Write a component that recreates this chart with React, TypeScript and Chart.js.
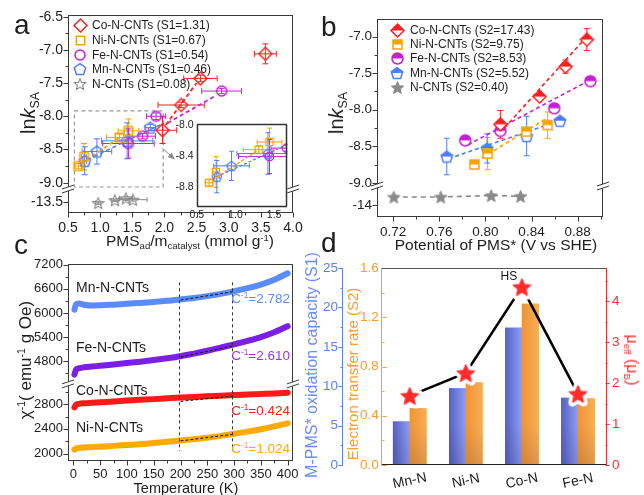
import { useEffect, useRef } from 'react';
import { Chart, registerables } from 'chart.js';

Chart.register(...registerables);

const FONT = '"Liberation Sans", Arial, Helvetica, sans-serif';
const INK = '#1e1e1e';
const AXIS = '#3a3a3a';

const RED = '#ff1f1f';
const ORANGE = '#f7a400';
const PURPLE = '#c51fd8';
const BLUE = '#4f7dff';
const GRAY = '#8a8a8a';

// ---------------- panel a ----------------
const aLabels = ['Co-N-CNTs (S1=1.31)', 'Ni-N-CNTs (S1=0.67)', 'Fe-N-CNTs (S1=0.54)', 'Mn-N-CNTs (S1=0.46)', 'N-CNTs (S1=0.08)'];
const aCoX = [1.97, 2.26, 2.56, 3.57];
const aCoY = [-8.21, -7.83, -7.43, -7.06];
const aCoXe = [0.22, 0.36, 0.26, 0.17];
const aCoYe = [0.2, 0.04, 0.05, 0.15];
const aNiX = [0.66, 0.75, 1.3, 1.44];
const aNiY = [-8.75, -8.61, -8.32, -8.22];
const aNiXe = [0.05, 0.04, 0.2, 0.16];
const aNiYe = [0.04, 0.2, 0.05, 0.18];
const aFeX = [1.44, 1.66, 1.87, 2.89];
const aFeY = [-8.41, -8.3, -8.0, -7.62];
const aFeXe = [0.4, 0.2, 0.15, 0.31];
const aFeYe = [0.22, 0.04, 0.05, 0.04];
const aMnX = [0.76, 0.95, 1.42, 1.78];
const aMnY = [-8.67, -8.53, -8.37, -8.17];
const aMnXe = [0.03, 0.23, 0.4, 0.08];
const aMnYe = [0.21, 0.19, 0.27, 0.05];
const aNX = [0.97, 1.23, 1.4, 1.51];
const aNY = [-13.52, -13.48, -13.45, -13.47];
const aNXe = [0.04, 0.05, 0.1, 0.22];
const aNYe = [0.02, 0.02, 0.03, 0.02];
const aCoFit = [2.02, -8.13, 2.5, -7.5];
const aNiFit = [0.7, -8.72, 1.3, -8.32];
const aFeFit = [2.05, -8.1, 2.78, -7.7];
const aMnFit = [0.7, -8.7, 2.0, -8.1];
const aXTicks = [0.5, 1.0, 1.5, 2.0, 2.5, 3.0, 3.5, 4.0];
const aYTicks = [-9.0, -8.5, -8.0, -7.5, -7.0, -6.5];
const aYLowTicks = [-13.5];
const aZoomBox = [0.6, 1.98, -9.065, -7.92];
const aArrow = [1.99, -8.5, 2.14, -8.63];
const aiXTicks = [0.5, 1.0, 1.5];
const aiYTicks = [-8.8, -8.4, -8.0];

// ---------------- panel b ----------------
const bLabels = ['Co-N-CNTs (S2=17.43)', 'Ni-N-CNTs (S2=9.75)', 'Fe-N-CNTs (S2=8.53)', 'Mn-N-CNTs (S2=5.52)', 'N-CNTs (S2=0.40)'];
const bCoX = [0.813, 0.847, 0.8695, 0.888];
const bCoY = [-8.2, -7.82, -7.41, -7.04];
const bCoYe = [0.19, 0.03, 0.09, 0.15];
const bNiX = [0.7905, 0.802, 0.8355, 0.854];
const bNiY = [-8.75, -8.6, -8.3, -8.21];
const bNiYe = [0.03, 0.22, 0.04, 0.18];
const bFeX = [0.7825, 0.813, 0.8597, 0.891];
const bFeY = [-8.42, -8.29, -7.98, -7.61];
const bFeYe = [0.05, 0.04, 0.06, 0.03];
const bMnX = [0.7665, 0.8015, 0.8358, 0.8646];
const bMnY = [-8.64, -8.53, -8.36, -8.15];
const bMnYe = [0.25, 0.2, 0.27, 0.04];
const bNX = [0.7206, 0.7613, 0.805, 0.8305];
const bNY = [-13.89, -13.89, -13.87, -13.88];
const bCoFit = [0.8125, -8.32, 0.889, -6.98];
const bNiFit = [0.797, -8.66, 0.853, -8.12];
const bFeFit = [0.785, -8.48, 0.89, -7.6];
const bMnFit = [0.768, -8.67, 0.866, -8.14];
const bXTicks = [0.72, 0.76, 0.8, 0.84, 0.88];
const bYTicks = [-9.0, -8.5, -8.0, -7.5, -7.0];
const bYLowTicks = [-14];

// ---------------- panel c ----------------
const cT = [2, 5, 10, 20, 35, 50, 75, 100, 125, 150, 175, 200, 225, 250, 275, 300, 325, 350, 375, 400];
const cMn = [6080, 6215, 6235, 6205, 6185, 6188, 6205, 6225, 6248, 6272, 6300, 6335, 6372, 6418, 6472, 6540, 6615, 6705, 6825, 6985];
const cFe = [4470, 4590, 4625, 4650, 4668, 4688, 4720, 4755, 4790, 4830, 4875, 4925, 4990, 5060, 5140, 5220, 5305, 5400, 5520, 5670];
const cCo = [2750, 2790, 2805, 2815, 2822, 2830, 2845, 2858, 2870, 2882, 2895, 2907, 2918, 2928, 2938, 2948, 2957, 2966, 2975, 2985];
const cNi = [2065, 2080, 2090, 2098, 2104, 2112, 2125, 2138, 2153, 2170, 2190, 2212, 2234, 2258, 2287, 2320, 2355, 2395, 2440, 2490];
const cMnFit = [200, 6320, 300, 6530];
const cFeFit = [200, 4905, 300, 5185];
const cCoFit = [200, 2845, 300, 2935];
const cNiFit = [200, 2205, 300, 2315];
const cVLines = [197, 296];
const cVSpan = [6760, 2040];
const cXTicks = [0, 50, 100, 150, 200, 250, 300, 350, 400];
const cYTicks = [4800, 5400, 6000, 6600, 7200];
const cYLowTicks = [2000, 2400, 2800];

// ---------------- panel d ----------------
const dCats = ['Mn-N', 'Ni-N', 'Co-N', 'Fe-N'];
const dS1 = [5.52, 9.75, 17.43, 8.53];
const dS2 = [0.46, 0.67, 1.31, 0.54];
const dMu = [1.69, 2.25, 4.35, 1.74];
const dS1Ticks = [0, 5, 10, 15, 20, 25];
const dS2Ticks = [0, 0.4, 0.8, 1.2, 1.6];
const dMuTicks = [0, 1, 2, 3, 4];

const D_BLUE = '#5b7fff';
const D_ORANGE = '#ff9a2e';
const D_RED = '#ff2b2b';

// ---------------- helpers ----------------
const f1 = (v: number) => v.toFixed(1);
const f2 = (v: number) => v.toFixed(2);
const f0 = (v: number) => String(Math.round(v));
const pts = (xs: number[], ys: number[]) => xs.map((x, i) => ({ x, y: ys[i] }));
const seg = (f: number[]) => [{ x: f[0], y: f[1] }, { x: f[2], y: f[3] }];

function shapePath(ctx: CanvasRenderingContext2D, shape: string, r: number) {
  ctx.beginPath();
  if (shape === 'circle') {
    ctx.arc(0, 0, r, 0, Math.PI * 2);
  } else if (shape === 'square') {
    ctx.rect(-r, -r, 2 * r, 2 * r);
  } else if (shape === 'diamond') {
    ctx.moveTo(0, -r); ctx.lineTo(r, 0); ctx.lineTo(0, r); ctx.lineTo(-r, 0); ctx.closePath();
  } else if (shape === 'pentagon') {
    for (let i = 0; i < 5; i++) {
      const a = -Math.PI / 2 + (i * 2 * Math.PI) / 5;
      const x = r * Math.cos(a), y = r * Math.sin(a) + r * 0.1;
      if (i === 0) ctx.moveTo(x, y); else ctx.lineTo(x, y);
    }
    ctx.closePath();
  } else if (shape === 'star') {
    for (let i = 0; i < 10; i++) {
      const rr = i % 2 ? r * 0.46 : r;
      const a = -Math.PI / 2 + (i * Math.PI) / 5;
      const x = rr * Math.cos(a), y = rr * Math.sin(a) + r * 0.1;
      if (i === 0) ctx.moveTo(x, y); else ctx.lineTo(x, y);
    }
    ctx.closePath();
  }
}

function makeMarker(shape: string, r: number, color: string, mode: string, lw = 1.4, halo = 0): HTMLCanvasElement {
  const pad = Math.ceil(lw / 2 + halo + 1);
  const size = Math.ceil(2 * r + 2 * pad);
  const c = document.createElement('canvas');
  c.width = size; c.height = size;
  const ctx = c.getContext('2d') as CanvasRenderingContext2D;
  ctx.translate(size / 2, size / 2);
  const path = () => shapePath(ctx, shape, r);
  if (halo > 0) {
    path(); ctx.strokeStyle = '#fff'; ctx.lineJoin = 'round'; ctx.lineWidth = lw + 2 * halo; ctx.stroke();
  }
  ctx.lineJoin = 'miter';
  if (mode === 'filled') {
    path(); ctx.fillStyle = color; ctx.fill();
  } else if (mode === 'half') {
    path(); ctx.fillStyle = '#fff'; ctx.fill();
    ctx.save(); path(); ctx.clip(); ctx.fillStyle = color; ctx.fillRect(-size, -size, 2 * size, size); ctx.restore();
  }
  if (lw > 0) { path(); ctx.strokeStyle = color; ctx.lineWidth = lw; ctx.stroke(); }
  return c;
}

function lin(o: any) {
  return {
    type: 'linear', position: o.pos, min: o.min, max: o.max, bounds: 'data',
    stack: o.stack, stackWeight: o.sw ?? 1, weight: o.weight ?? 0,
    grid: { display: false, drawTicks: false },
    border: o.border ? { display: true, color: o.border, width: 1 } : { display: false },
    ticks: {
      color: o.color ?? INK, font: { family: FONT, size: o.fs }, padding: o.pad ?? 4,
      autoSkip: false, maxRotation: 0, minRotation: 0,
      callback: (v: any) => o.fmt(Number(v)),
    },
    afterBuildTicks: (s: any) => { s.ticks = o.ticks.map((v: number) => ({ value: v })); },
    afterFit: (s: any) => { if (o.pos === 'bottom') s.height = o.size; else s.width = o.size; },
  };
}

const base = (top: number, right: number) => ({
  responsive: false, animation: false, devicePixelRatio: 1, events: [],
  layout: { padding: { top, right, left: 0, bottom: 0 } },
  plugins: { legend: { display: false }, tooltip: { enabled: false } },
});

function pointDs(label: string, data: any[], img: any, yAxisID = 'y', r = 6) {
  return { type: 'line', label, data, showLine: false, pointStyle: img, pointRadius: r, pointHoverRadius: r, yAxisID, order: 0 };
}
function lineDs(data: any[], color: string, width: number, dash: number[], yAxisID = 'y', order = 5) {
  return { type: 'line', data, borderColor: color, borderWidth: width, borderDash: dash, pointRadius: 0, fill: false, tension: 0, yAxisID, order };
}

function drawErr(chart: any, ctx: CanvasRenderingContext2D, s: any) {
  const meta = chart.getDatasetMeta(s.ds);
  const data = chart.data.datasets[s.ds].data;
  const xs = chart.scales[meta.xAxisID], ys = chart.scales[meta.yAxisID];
  ctx.strokeStyle = s.color; ctx.lineWidth = 1; ctx.setLineDash([]);
  ctx.beginPath();
  data.forEach((p: any, i: number) => {
    const px = xs.getPixelForValue(p.x), py = ys.getPixelForValue(p.y);
    if (s.xe && s.xe[i]) {
      const x0 = xs.getPixelForValue(p.x - s.xe[i]), x1 = xs.getPixelForValue(p.x + s.xe[i]);
      ctx.moveTo(x0, py); ctx.lineTo(x1, py);
      ctx.moveTo(x0, py - s.cap); ctx.lineTo(x0, py + s.cap);
      ctx.moveTo(x1, py - s.cap); ctx.lineTo(x1, py + s.cap);
    }
    if (s.ye && s.ye[i]) {
      const y0 = ys.getPixelForValue(p.y - s.ye[i]), y1 = ys.getPixelForValue(p.y + s.ye[i]);
      ctx.moveTo(px, y0); ctx.lineTo(px, y1);
      ctx.moveTo(px - s.cap, y0); ctx.lineTo(px + s.cap, y0);
      ctx.moveTo(px - s.cap, y1); ctx.lineTo(px + s.cap, y1);
    }
  });
  ctx.stroke();
}

function drawTicks(chart: any, ctx: CanvasRenderingContext2D, t: any) {
  const s = chart.scales[t.id];
  const majors = s.ticks.map((k: any) => k.value);
  const k0 = Math.ceil(s.min / t.minor - 1e-6), k1 = Math.floor(s.max / t.minor + 1e-6);
  ctx.strokeStyle = t.color; ctx.lineWidth = 1; ctx.setLineDash([]);
  ctx.beginPath();
  for (let k = k0; k <= k1; k++) {
    const v = k * t.minor;
    const major = majors.some((m: number) => Math.abs(m - v) < t.minor * 0.01);
    const L = major ? t.len : Math.round(t.len * 0.6);
    const p = Math.round(s.getPixelForValue(v)) + 0.5;
    if (s.position === 'left') {
      const x = Math.round(s.right) + 0.5; ctx.moveTo(x, p); ctx.lineTo(x - t.dir * L, p);
    } else if (s.position === 'right') {
      const x = Math.round(s.left) - 0.5; ctx.moveTo(x, p); ctx.lineTo(x + t.dir * L, p);
    } else {
      const y = Math.round(s.top) - 0.5; ctx.moveTo(p, y); ctx.lineTo(p, y + t.dir * L);
    }
  }
  ctx.stroke();
}

function drawBreak(chart: any, ctx: CanvasRenderingContext2D, id: string, color: string) {
  const s = chart.scales[id]; const a = chart.chartArea;
  const yb = s.bottom;
  [a.left, a.right].forEach((x: number) => {
    ctx.fillStyle = '#fff';
    ctx.beginPath();
    ctx.moveTo(x - 6, yb + 1); ctx.lineTo(x + 6, yb - 3); ctx.lineTo(x + 6, yb + 1); ctx.lineTo(x - 6, yb + 5); ctx.closePath();
    ctx.fill();
    ctx.strokeStyle = color; ctx.lineWidth = 1; ctx.setLineDash([]);
    ctx.beginPath();
    ctx.moveTo(x - 6, yb + 1); ctx.lineTo(x + 6, yb - 3);
    ctx.moveTo(x - 6, yb + 5); ctx.lineTo(x + 6, yb + 1);
    ctx.stroke();
  });
}

function drawFrame(chart: any, ctx: CanvasRenderingContext2D, f: any) {
  const a = chart.chartArea;
  const l = Math.round(a.left) + 0.5, t = Math.round(a.top) + 0.5;
  const r = Math.round(a.right) - 0.5, b = Math.round(a.bottom) - 0.5;
  ctx.strokeStyle = f.color; ctx.lineWidth = f.lw ?? 1; ctx.setLineDash([]);
  ctx.beginPath();
  const sides = f.sides ?? 'tlrb';
  if (sides.includes('t')) { ctx.moveTo(l - 0.5, t); ctx.lineTo(r + 0.5, t); }
  if (sides.includes('b')) { ctx.moveTo(l - 0.5, b); ctx.lineTo(r + 0.5, b); }
  if (sides.includes('l')) { ctx.moveTo(l, t); ctx.lineTo(l, b); }
  if (sides.includes('r')) { ctx.moveTo(r, t); ctx.lineTo(r, b); }
  ctx.stroke();
}

function drawLegend(ctx: CanvasRenderingContext2D, L: any) {
  ctx.font = `${L.fs}px ${FONT}`; ctx.fillStyle = INK; ctx.textBaseline = 'middle'; ctx.textAlign = 'left';
  L.items.forEach((it: any, i: number) => {
    const y = L.y + i * L.dy;
    ctx.drawImage(it.img, Math.round(L.x - it.img.width / 2), Math.round(y - it.img.height / 2));
    ctx.fillText(it.text, L.tx, y + 0.5);
  });
}

function decor(cfg: any) {
  return {
    id: 'decor',
    beforeDraw(chart: any) {
      if (!cfg.bg) return;
      const a = chart.chartArea; const c = chart.ctx;
      c.save(); c.fillStyle = '#fff'; c.fillRect(a.left, a.top, a.right - a.left, a.bottom - a.top); c.restore();
    },
    beforeDatasetsDraw(chart: any) {
      const ctx = chart.ctx; const a = chart.chartArea;
      ctx.save();
      ctx.beginPath(); ctx.rect(a.left, a.top, a.right - a.left, a.bottom - a.top); ctx.clip();
      if (cfg.before) cfg.before(chart, ctx);
      (cfg.err || []).forEach((s: any) => drawErr(chart, ctx, s));
      ctx.restore();
    },
    afterDatasetDraw(chart: any, args: any) {
      if (cfg.afterDs) cfg.afterDs(chart, args);
    },
    afterDraw(chart: any) {
      const ctx = chart.ctx;
      ctx.save();
      if (cfg.afterClip) {
        const a = chart.chartArea;
        ctx.save(); ctx.beginPath(); ctx.rect(a.left, a.top, a.right - a.left, a.bottom - a.top); ctx.clip();
        cfg.afterClip(chart, ctx);
        ctx.restore();
      }
      if (cfg.frame) drawFrame(chart, ctx, cfg.frame);
      (cfg.ticks || []).forEach((t: any) => drawTicks(chart, ctx, t));
      if (cfg.breakAt) drawBreak(chart, ctx, cfg.breakAt, cfg.frame ? cfg.frame.color : AXIS);
      if (cfg.legend) drawLegend(ctx, cfg.legend);
      if (cfg.after) cfg.after(chart, ctx);
      ctx.restore();
    },
  };
}

// ---------------- charts ----------------
function chartA(cv: HTMLCanvasElement) {
  const co = makeMarker('diamond', 6.5, RED, 'open', 1.5);
  const ni = makeMarker('square', 4.2, ORANGE, 'open', 1.5);
  const fe = makeMarker('circle', 5, PURPLE, 'open', 1.5);
  const mn = makeMarker('pentagon', 6, BLUE, 'open', 1.5);
  const nn = makeMarker('star', 6, GRAY, 'open', 1.1);
  const datasets: any[] = [
    pointDs(aLabels[0], pts(aCoX, aCoY), co),
    pointDs(aLabels[1], pts(aNiX, aNiY), ni),
    pointDs(aLabels[2], pts(aFeX, aFeY), fe),
    pointDs(aLabels[3], pts(aMnX, aMnY), mn),
    pointDs(aLabels[4], pts(aNX, aNY), nn, 'y2'),
    lineDs(seg(aCoFit), RED, 1.8, [4, 3]),
    lineDs(seg(aNiFit), ORANGE, 1.8, [4, 3]),
    lineDs(seg(aFeFit), PURPLE, 1.8, [4, 3]),
    lineDs(seg(aMnFit), BLUE, 1.5, [4, 3]),
  ];
  return new Chart(cv, {
    type: 'line',
    data: { datasets },
    options: {
      ...base(15, 29),
      scales: {
        x: lin({ min: 0.5, max: 4.0, ticks: aXTicks, fmt: f1, pos: 'bottom', size: 37, fs: 14, pad: 7 }),
        y: lin({ min: -9.08, max: -6.475, ticks: aYTicks, fmt: f1, pos: 'left', size: 68, fs: 14, pad: 5, stack: 'L', sw: 173, weight: 2 }),
        y2: lin({ min: -13.67, max: -13.294, ticks: aYLowTicks, fmt: f1, pos: 'left', size: 68, fs: 14, pad: 5, stack: 'L', sw: 25, weight: 1 }),
      },
    } as any,
    plugins: [decor({
      frame: { color: AXIS },
      ticks: [
        { id: 'x', minor: 0.25, dir: 1, len: 5, color: AXIS },
        { id: 'y', minor: 0.25, dir: 1, len: 5, color: AXIS },
        { id: 'y2', minor: 0.25, dir: 1, len: 5, color: AXIS },
      ],
      breakAt: 'y',
      err: [
        { ds: 0, xe: aCoXe, ye: aCoYe, color: RED, cap: 3 },
        { ds: 1, xe: aNiXe, ye: aNiYe, color: ORANGE, cap: 3 },
        { ds: 2, xe: aFeXe, ye: aFeYe, color: PURPLE, cap: 3 },
        { ds: 3, xe: aMnXe, ye: aMnYe, color: BLUE, cap: 3 },
        { ds: 4, xe: aNXe, ye: aNYe, color: GRAY, cap: 2.5 },
      ],
      legend: { x: 80, y: 25.3, dy: 14.7, tx: 92, fs: 12, items: [co, ni, fe, mn, nn].map((img, i) => ({ img, text: aLabels[i] })) },
      before: (chart: any, ctx: CanvasRenderingContext2D) => {
        const xs = chart.scales.x, ys = chart.scales.y;
        const x0 = xs.getPixelForValue(aZoomBox[0]), x1 = xs.getPixelForValue(aZoomBox[1]);
        const y0 = ys.getPixelForValue(aZoomBox[2]), y1 = ys.getPixelForValue(aZoomBox[3]);
        ctx.strokeStyle = '#9a9a9a'; ctx.lineWidth = 1.2; ctx.setLineDash([4, 3]);
        ctx.strokeRect(x0, y1, x1 - x0, y0 - y1);
        ctx.setLineDash([]);
        const ax0 = xs.getPixelForValue(aArrow[0]), ay0 = ys.getPixelForValue(aArrow[1]);
        const ax1 = xs.getPixelForValue(aArrow[2]), ay1 = ys.getPixelForValue(aArrow[3]);
        ctx.strokeStyle = '#8a8a8a'; ctx.fillStyle = '#8a8a8a'; ctx.lineWidth = 1;
        ctx.beginPath(); ctx.moveTo(ax0, ay0); ctx.lineTo(ax1, ay1); ctx.stroke();
        const ang = Math.atan2(ay1 - ay0, ax1 - ax0);
        ctx.beginPath();
        ctx.moveTo(ax1 + 2 * Math.cos(ang), ay1 + 2 * Math.sin(ang));
        ctx.lineTo(ax1 - 5 * Math.cos(ang) + 3 * Math.sin(ang), ay1 - 5 * Math.sin(ang) - 3 * Math.cos(ang));
        ctx.lineTo(ax1 - 5 * Math.cos(ang) - 3 * Math.sin(ang), ay1 - 5 * Math.sin(ang) + 3 * Math.cos(ang));
        ctx.closePath(); ctx.fill();
      },
    })],
  } as any);
}

function chartAInset(cv: HTMLCanvasElement) {
  const ni = makeMarker('square', 3.6, ORANGE, 'open', 1.3);
  const fe = makeMarker('circle', 4.2, PURPLE, 'open', 1.3);
  const mn = makeMarker('pentagon', 5, BLUE, 'open', 1.3);
  const datasets: any[] = [
    pointDs('Ni', pts(aNiX, aNiY), ni, 'y', 4),
    pointDs('Fe', pts(aFeX, aFeY), fe, 'y', 4),
    pointDs('Mn', pts(aMnX, aMnY), mn, 'y', 4),
    lineDs(seg(aNiFit), ORANGE, 1.5, [3, 2]),
    lineDs(seg(aMnFit), BLUE, 1.3, [3, 2]),
  ];
  return new Chart(cv, {
    type: 'line',
    data: { datasets },
    options: {
      ...base(12, 7.7),
      scales: {
        x: lin({ min: 0.5, max: 1.67, ticks: aiXTicks, fmt: f1, pos: 'bottom', size: 18.3, fs: 10.5, pad: 2 }),
        y: lin({ min: -9.06, max: -7.987, ticks: aiYTicks, fmt: f1, pos: 'left', size: 36.7, fs: 10.5, pad: 3 }),
      },
    } as any,
    plugins: [decor({
      bg: true,
      frame: { color: '#333', lw: 1.5 },
      err: [
        { ds: 0, xe: aNiXe, ye: aNiYe, color: ORANGE, cap: 2.5 },
        { ds: 1, xe: aFeXe, ye: aFeYe, color: PURPLE, cap: 2.5 },
        { ds: 2, xe: aMnXe, ye: aMnYe, color: BLUE, cap: 2.5 },
      ],
    })],
  } as any);
}

function chartB(cv: HTMLCanvasElement) {
  const co = makeMarker('diamond', 6.5, RED, 'half', 1.5);
  const ni = makeMarker('square', 4.5, ORANGE, 'half', 1.5);
  const fe = makeMarker('circle', 5.5, PURPLE, 'half', 1.5);
  const mn = makeMarker('pentagon', 6, BLUE, 'half', 1.5);
  const nn = makeMarker('star', 6.5, GRAY, 'filled', 1);
  const datasets: any[] = [
    pointDs(bLabels[0], pts(bCoX, bCoY), co),
    pointDs(bLabels[1], pts(bNiX, bNiY), ni),
    pointDs(bLabels[2], pts(bFeX, bFeY), fe),
    pointDs(bLabels[3], pts(bMnX, bMnY), mn),
    pointDs(bLabels[4], pts(bNX, bNY), nn, 'y2'),
    lineDs(seg(bCoFit), RED, 1.6, [4, 3]),
    lineDs(seg(bNiFit), ORANGE, 1.6, [4, 3]),
    lineDs(seg(bFeFit), PURPLE, 1.6, [4, 3]),
    lineDs(seg(bMnFit), BLUE, 1.6, [4, 3]),
    lineDs(pts(bNX, bNY), GRAY, 1.6, [5, 4], 'y2'),
  ];
  return new Chart(cv, {
    type: 'line',
    data: { datasets },
    options: {
      ...base(19, 41),
      scales: {
        x: lin({ min: 0.706, max: 0.902, ticks: bXTicks, fmt: f2, pos: 'bottom', size: 33, fs: 13.5, pad: 7 }),
        y: lin({ min: -9.03, max: -6.758, ticks: bYTicks, fmt: f1, pos: 'left', size: 55, fs: 13.5, pad: 5, stack: 'L', sw: 166, weight: 2 }),
        y2: lin({ min: -14.164, max: -13.726, ticks: bYLowTicks, fmt: f0, pos: 'left', size: 55, fs: 13.5, pad: 5, stack: 'L', sw: 32, weight: 1 }),
      },
    } as any,
    plugins: [decor({
      frame: { color: AXIS },
      ticks: [
        { id: 'x', minor: 0.02, dir: 1, len: 5, color: AXIS },
        { id: 'y', minor: 0.25, dir: 1, len: 5, color: AXIS },
        { id: 'y2', minor: 0.25, dir: 1, len: 5, color: AXIS },
      ],
      breakAt: 'y',
      err: [
        { ds: 0, ye: bCoYe, color: RED, cap: 3 },
        { ds: 1, ye: bNiYe, color: ORANGE, cap: 3 },
        { ds: 2, ye: bFeYe, color: PURPLE, cap: 3 },
        { ds: 3, ye: bMnYe, color: BLUE, cap: 3 },
      ],
      legend: { x: 75, y: 30, dy: 14.25, tx: 88, fs: 12, items: [co, ni, fe, mn, nn].map((img, i) => ({ img, text: bLabels[i] })) },
    })],
  } as any);
}

function curveDs(xs: number[], ys: number[], color: string, yAxisID: string) {
  return {
    type: 'line', data: pts(xs, ys), borderColor: color, borderWidth: 6, pointRadius: 0,
    cubicInterpolationMode: 'monotone', borderCapStyle: 'round', borderJoinStyle: 'round', fill: false, yAxisID, order: 5,
  };
}

function chartC(cv: HTMLCanvasElement) {
  const datasets: any[] = [
    lineDs(seg(cMnFit), '#111', 1, [3, 2], 'y', 0),
    lineDs(seg(cFeFit), '#111', 1, [3, 2], 'y', 0),
    lineDs(seg(cCoFit), '#111', 1, [3, 2], 'y2', 0),
    lineDs(seg(cNiFit), '#111', 1, [3, 2], 'y2', 0),
    curveDs(cT, cMn, '#5b8cff', 'y'),
    curveDs(cT, cFe, '#7b1fe6', 'y'),
    curveDs(cT, cCo, '#ff1a1a', 'y2'),
    curveDs(cT, cNi, '#ffaa00', 'y2'),
  ];
  return new Chart(cv, {
    type: 'line',
    data: { datasets },
    options: {
      ...base(14, 29),
      scales: {
        x: lin({ min: -10, max: 410, ticks: cXTicks, fmt: f0, pos: 'bottom', size: 34, fs: 13, pad: 6 }),
        y: lin({ min: 4263, max: 7215, ticks: cYTicks, fmt: f0, pos: 'left', size: 68, fs: 13, pad: 5, stack: 'L', sw: 118.7, weight: 2 }),
        y2: lin({ min: 1880, max: 3145, ticks: cYLowTicks, fmt: f0, pos: 'left', size: 68, fs: 13, pad: 5, stack: 'L', sw: 78, weight: 1 }),
      },
    } as any,
    plugins: [decor({
      frame: { color: AXIS },
      ticks: [
        { id: 'x', minor: 25, dir: 1, len: 5, color: AXIS },
        { id: 'y', minor: 300, dir: 1, len: 5, color: AXIS },
        { id: 'y2', minor: 200, dir: 1, len: 5, color: AXIS },
      ],
      breakAt: 'y',
      afterClip: (chart: any, ctx: CanvasRenderingContext2D) => {
        const xs = chart.scales.x;
        const y0 = chart.scales.y.getPixelForValue(cVSpan[0]);
        const y1 = chart.scales.y2.getPixelForValue(cVSpan[1]);
        ctx.strokeStyle = '#333'; ctx.lineWidth = 1; ctx.setLineDash([3, 3]);
        ctx.beginPath();
        cVLines.forEach((t) => {
          const x = Math.round(xs.getPixelForValue(t)) + 0.5;
          ctx.moveTo(x, y0); ctx.lineTo(x, y1);
        });
        ctx.stroke();
        ctx.setLineDash([]);
      },
    })],
  } as any);
}

function chartD(cv: HTMLCanvasElement) {
  const star = makeMarker('star', 9.5, D_RED, 'filled', 1, 3.5);
  const datasets: any[] = [
    { type: 'line', data: dMu, yAxisID: 'yMu', borderColor: '#000', borderWidth: 2.5, pointStyle: star, pointRadius: 9, pointHoverRadius: 9, tension: 0, fill: false, order: 0 },
    { type: 'bar', data: dS1, yAxisID: 'yS1', backgroundColor: '#7a86e0', categoryPercentage: 0.6, barPercentage: 1, order: 2 },
    { type: 'bar', data: dS2, yAxisID: 'yS2', backgroundColor: '#f5a040', categoryPercentage: 0.6, barPercentage: 1, order: 3 },
  ];
  return new Chart(cv, {
    type: 'bar',
    data: { labels: dCats, datasets },
    options: {
      ...base(18, 0),
      scales: {
        x: {
          type: 'category', offset: true, grid: { display: false, drawTicks: false }, border: { display: false },
          ticks: { display: false }, afterFit: (s: any) => { s.height = 30; },
        },
        yS1: lin({ min: 0, max: 25, ticks: dS1Ticks, fmt: f0, pos: 'left', size: 20, fs: 13.5, color: D_BLUE, pad: 4, weight: 1, border: D_BLUE }),
        yS2: lin({ min: 0, max: 1.6, ticks: dS2Ticks, fmt: f1, pos: 'left', size: 39.7, fs: 13.5, color: D_ORANGE, pad: 3, weight: 0, border: D_ORANGE }),
        yMu: lin({ min: 0, max: 4.816, ticks: dMuTicks, fmt: f0, pos: 'right', size: 38, fs: 13.5, color: D_RED, pad: 6, border: D_RED }),
      },
    } as any,
    plugins: [decor({
      frame: { color: '#222', sides: 'b' },
      ticks: [
        { id: 'yS1', minor: 2.5, dir: 1, len: 4, color: D_BLUE },
        { id: 'yS2', minor: 0.2, dir: -1, len: 4, color: D_ORANGE },
        { id: 'yMu', minor: 0.5, dir: 1, len: 4, color: D_RED },
      ],
      afterDs: (chart: any, args: any) => {
        const idx = args.index;
        if (idx !== 1 && idx !== 2) return;
        const ctx = chart.ctx;
        const cols = idx === 1 ? ['#5660c0', '#8e9ef6'] : ['#ee9436', '#fbae55'];
        args.meta.data.forEach((el: any) => {
          const { x, y, base: b, width } = el.getProps(['x', 'y', 'base', 'width'], true);
          const l = x - width / 2;
          const g = ctx.createLinearGradient(l, 0, l + width, 0);
          g.addColorStop(0, cols[0]); g.addColorStop(1, cols[1]);
          ctx.save(); ctx.fillStyle = g; ctx.fillRect(l, y, width, b - y);
          const g2 = ctx.createLinearGradient(0, b - 40, 0, b);
          g2.addColorStop(0, 'rgba(0,0,40,0)'); g2.addColorStop(1, 'rgba(0,0,40,0.12)');
          ctx.fillStyle = g2; ctx.fillRect(l, Math.max(y, b - 40), width, Math.min(40, b - y));
          ctx.restore();
        });
      },
      after: (chart: any, ctx: CanvasRenderingContext2D) => {
        const a = chart.chartArea;
        ctx.strokeStyle = '#555'; ctx.lineWidth = 1; ctx.setLineDash([]);
        ctx.beginPath(); ctx.moveTo(a.left, Math.round(a.top) + 0.5); ctx.lineTo(a.right, Math.round(a.top) + 0.5); ctx.stroke();
        const xs = chart.scales.x;
        ctx.font = `14px ${FONT}`; ctx.fillStyle = INK; ctx.textAlign = 'center'; ctx.textBaseline = 'middle';
        dCats.forEach((lab, i) => {
          ctx.save();
          ctx.translate(xs.getPixelForValue(i), a.bottom + 16);
          ctx.rotate((-12 * Math.PI) / 180);
          ctx.fillText(lab, 0, 0);
          ctx.restore();
        });
        const el = chart.getDatasetMeta(0).data[2];
        ctx.font = `12px ${FONT}`; ctx.fillStyle = '#111';
        ctx.fillText('HS', el.x - 13, el.y - 10);
      },
    })],
  } as any);
}

// ---------------- page ----------------
const abs = (s: any): any => ({ position: 'absolute', fontFamily: FONT, whiteSpace: 'nowrap', lineHeight: 1, color: INK, ...s });
const Sub = ({ children }: any) => <span style={{ fontSize: '0.62em', position: 'relative', top: '0.32em' }}>{children}</span>;
const Sup = ({ children }: any) => <span style={{ fontSize: '0.62em', position: 'relative', top: '-0.55em' }}>{children}</span>;
const rotL = (cx: number, cy: number, fs: number, color = INK): any => abs({ left: cx, top: cy, fontSize: fs, color, transform: 'translate(-50%,-50%) rotate(-90deg)' });
const center = (cx: number, cy: number, fs: number): any => abs({ left: cx, top: cy, fontSize: fs, transform: 'translate(-50%,-50%)' });

export default function App() {
  const aRef = useRef<HTMLCanvasElement>(null);
  const aiRef = useRef<HTMLCanvasElement>(null);
  const bRef = useRef<HTMLCanvasElement>(null);
  const cRef = useRef<HTMLCanvasElement>(null);
  const dRef = useRef<HTMLCanvasElement>(null);

  useEffect(() => {
    Chart.defaults.font.family = FONT;
    const charts: Chart[] = [
      chartA(aRef.current as HTMLCanvasElement),
      chartAInset(aiRef.current as HTMLCanvasElement),
      chartB(bRef.current as HTMLCanvasElement),
      chartC(cRef.current as HTMLCanvasElement),
      chartD(dRef.current as HTMLCanvasElement),
    ];
    return () => charts.forEach((c) => c.destroy());
  }, []);

  const cv = (left: number, top: number, w: number, h: number): any => ({ position: 'absolute', left, top, width: w, height: h });

  return (
    <div style={{ position: 'absolute', left: 0, top: 0, width: 644, height: 495, background: '#fff', overflow: 'hidden' }}>
      <canvas ref={aRef} width={322} height={250} style={cv(0, 0, 322, 250)} />
      <canvas ref={aiRef} width={135} height={113} style={cv(160, 112, 135, 113)} />
      <canvas ref={bRef} width={322} height={250} style={cv(322, 0, 322, 250)} />
      <canvas ref={cRef} width={322} height={245} style={cv(0, 250, 322, 245)} />
      <canvas ref={dRef} width={322} height={245} style={cv(322, 250, 322, 245)} />

      <div style={abs({ left: 14, top: 11, fontSize: 28 })}>a</div>
      <div style={abs({ left: 321, top: 13, fontSize: 28 })}>b</div>
      <div style={abs({ left: 14, top: 231, fontSize: 28 })}>c</div>
      <div style={abs({ left: 321, top: 229, fontSize: 28 })}>d</div>

      <div style={rotL(28, 113, 20)}>ln<i>k</i><Sub>SA</Sub></div>
      <div style={rotL(336, 113, 20)}>ln<i>k</i><Sub>SA</Sub></div>
      <div style={center(190, 241, 15.5)}>PMS<Sub>ad</Sub>/m<Sub>catalyst</Sub> (mmol g<Sup>-1</Sup>)</div>
      <div style={center(496, 245, 15.5)}>Potential of PMS* (V vs SHE)</div>

      <div style={rotL(25, 360, 17)}>χ<Sup>-1</Sup>( emu<Sup>-1</Sup> g Oe)</div>
      <div style={center(186, 488, 14.5)}>Temperature (K)</div>
      <div style={abs({ left: 76, top: 287, fontSize: 14, transform: 'translateY(-50%)' })}>Mn-N-CNTs</div>
      <div style={abs({ left: 76, top: 347, fontSize: 14, transform: 'translateY(-50%)' })}>Fe-N-CNTs</div>
      <div style={abs({ left: 76, top: 390, fontSize: 14, transform: 'translateY(-50%)' })}>Co-N-CNTs</div>
      <div style={abs({ left: 76, top: 427, fontSize: 14, transform: 'translateY(-50%)' })}>Ni-N-CNTs</div>
      <div style={abs({ right: 354, top: 299, fontSize: 13.5, color: '#5b8cff', transform: 'translateY(-50%)' })}>C<Sup>-1</Sup>=2.782</div>
      <div style={abs({ right: 354, top: 356, fontSize: 13.5, color: '#a030f0', transform: 'translateY(-50%)' })}>C<Sup>-1</Sup>=2.610</div>
      <div style={abs({ right: 354, top: 411, fontSize: 13.5, color: '#ff1a1a', transform: 'translateY(-50%)' })}>C<Sup>-1</Sup>=0.424</div>
      <div style={abs({ right: 354, top: 449, fontSize: 13.5, color: '#ffaa00', transform: 'translateY(-50%)' })}>C<Sup>-1</Sup>=1.024</div>

      <div style={rotL(312, 365, 16, '#6a8cff')}>M-PMS* oxidation capacity (S1)</div>
      <div style={rotL(352, 374, 15, D_ORANGE)}>Electron transfer rate (S2)</div>
      <div style={abs({ left: 632, top: 360, fontSize: 16, color: D_RED, transform: 'translate(-50%,-50%) rotate(90deg)' })}>μ<Sub>eff</Sub> (μ<Sub>B</Sub>)</div>
    </div>
  );
}
